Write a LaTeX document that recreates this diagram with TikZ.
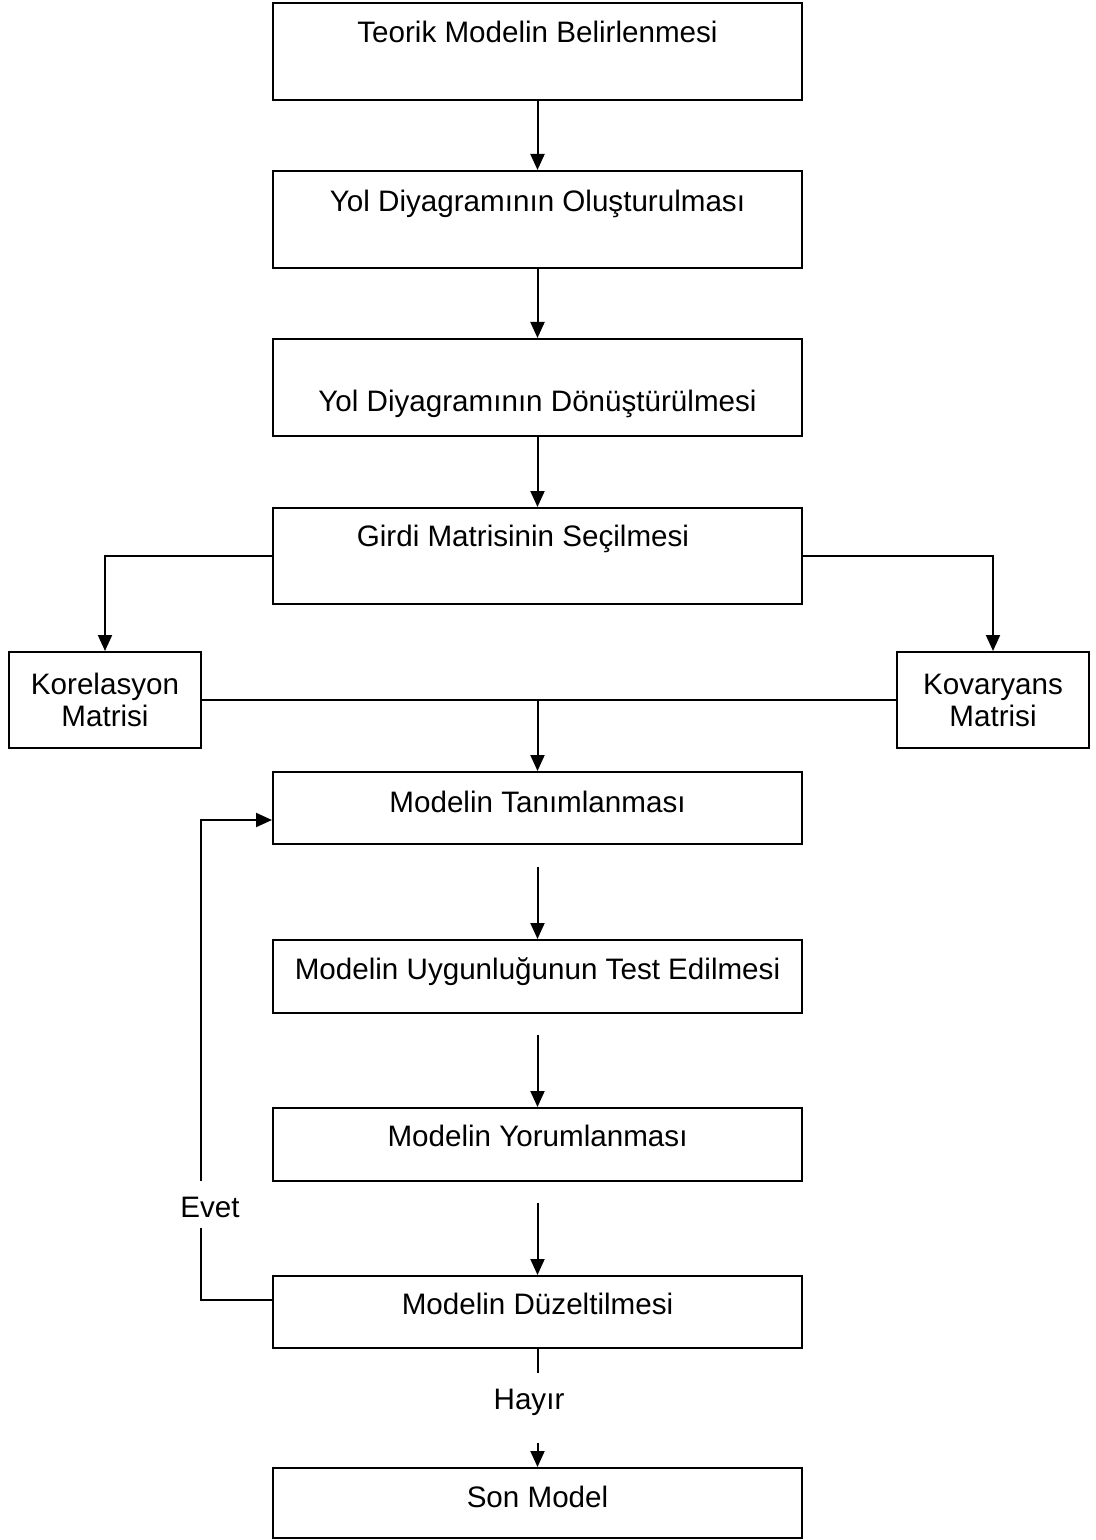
\documentclass[tikz,border=0pt]{standalone}
\usepackage{fontspec}
\setmainfont{Liberation Sans}
\usetikzlibrary{arrows.meta}
\begin{document}
\begin{tikzpicture}[x=0.5pt,y=-0.5pt,
  box/.style={draw, line width=1pt, inner sep=0pt, minimum width=264.5pt},
  sidebox/.style={draw, line width=1pt, inner sep=0pt, minimum width=96pt, minimum height=48pt,
    align=center, font=\fontsize{14.8}{16}\selectfont},
  lbl/.style={inner sep=0pt, font=\fontsize{14.8}{17}\selectfont, text height=0.72em, text depth=0pt},
  ln/.style={line width=1pt},
  arr/.style={line width=1pt, -{Triangle[length=8pt,width=7pt]}}]
\useasboundingbox (0,0) rectangle (1096,1540);

% boxes
\node[box, minimum height=48.5pt] (b1) at (537.5,51.5) {};
\node[box, minimum height=48.5pt] (b2) at (537.5,219.5) {};
\node[box, minimum height=48.5pt] (b3) at (537.5,387.5) {};
\node[box, minimum height=48pt]   (b4) at (537.5,556) {};
\node[sidebox] (kor) at (105,700) {Korelasyon\\Matrisi};
\node[sidebox] (kov) at (993,700) {Kovaryans\\Matrisi};
\node[box, minimum height=36pt]   (b5) at (537.5,808) {};
\node[box, minimum height=36.5pt] (b6) at (537.5,976.5) {};
\node[box, minimum height=36.5pt] (b7) at (537.5,1144.5) {};
\node[box, minimum height=36pt]   (b8) at (537.5,1312) {};
\node[box, minimum height=35pt]   (b9) at (537.5,1503) {};

% texts
\node[lbl] (t1) at (537.5,35) {Teorik Modelin Belirlenmesi};
\node[lbl] (t2) at (537.5,204) {Yol Diyagramının Oluşturulması};
\node[lbl] (t3) at (537.5,404) {Yol Diyagramının Dönüştürülmesi};
\node[lbl] (t4) at (523,539) {Girdi Matrisinin Seçilmesi};
\node[lbl] (t5) at (537.5,805) {Modelin Tanımlanması};
\node[lbl] (t6) at (537.5,972) {Modelin Uygunluğunun Test Edilmesi};
\node[lbl] (t7) at (537.5,1139) {Modelin Yorumlanması};
\node[lbl] (t8) at (537.5,1307) {Modelin Düzeltilmesi};
\node[lbl] (t9) at (537.5,1500) {Son Model};
\node[lbl] (evet) at (210,1210) {Evet};
\node[lbl] (hayir) at (529,1402) {Hayır};

% coordinates for free ends
\coordinate (s5) at (537.5,867);
\coordinate (s6) at (537.5,1035);
\coordinate (s7) at (537.5,1203);
\coordinate (ev1) at (201,1228);
\coordinate (ev2) at (201,1181);
\coordinate (h1) at (537.5,1373);
\coordinate (h2) at (537.5,1443);

% connectors
\draw[arr] (b1.south) -- (b2.north);
\draw[arr] (b2.south) -- (b3.north);
\draw[arr] (b3.south) -- (b4.north);
\draw[arr] (b4.west) -| (kor.north);
\draw[arr] (b4.east) -| (kov.north);
\draw[ln] (kor.east) -- (kov.west);
\draw[arr] (b5.north |- kor.east) -- (b5.north);
\draw[arr] (s5) -- (b6.north);
\draw[arr] (s6) -- (b7.north);
\draw[arr] (s7) -- (b8.north);
\draw[ln] ([yshift=6pt]b8.west) -| (ev1);
\draw[arr] (ev2) |- ([yshift=-6pt]b5.west);
\draw[ln] (b8.south) -- (h1);
\draw[arr] (h2) -- (b9.north);
\end{tikzpicture}
\end{document}
